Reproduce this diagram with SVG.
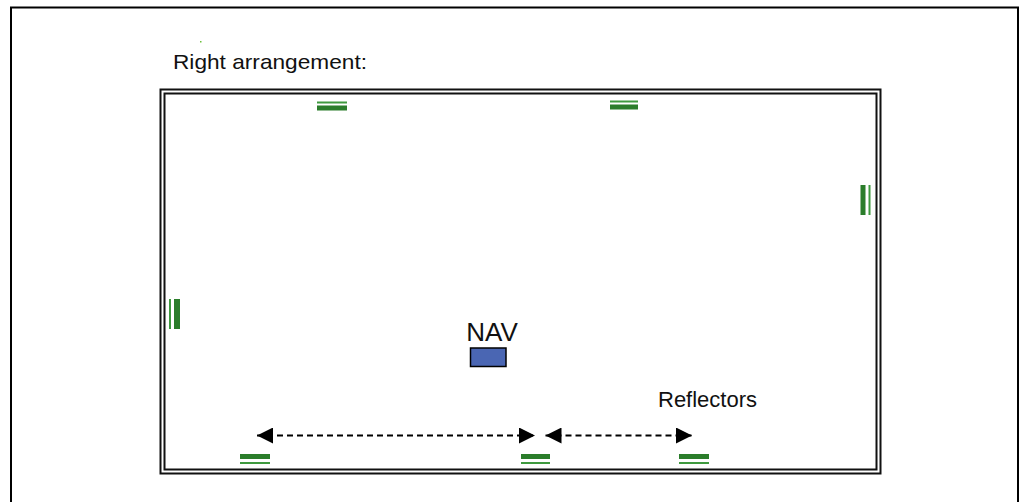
<svg xmlns="http://www.w3.org/2000/svg" width="1022" height="502" viewBox="0 0 1022 502">
  <defs>
    <marker id="head" viewBox="0 0 10 10" refX="10" refY="5" markerWidth="17" markerHeight="16" markerUnits="userSpaceOnUse" orient="auto-start-reverse">
      <path d="M0,0 L10,5 L0,10 Z" fill="#000"/>
    </marker>
  </defs>
  <style>
    .frame { fill: none; stroke: #000; stroke-width: 2; }
    .wall { fill: none; stroke: #111; stroke-width: 2; }
    .thick { fill: #2b7d2b; }
    .thin { fill: #3f9a3f; }
    .label { font-family: "Liberation Sans", Arial, sans-serif; fill: #111; }
    .dim { fill: none; stroke: #000; stroke-width: 2; stroke-dasharray: 6 4; }
  </style>

  <rect width="1022" height="502" fill="#fff"/>

  <!-- page frame, open at the bottom -->
  <path class="frame" d="M11,502 V7.5 H1018 V502"/>

  <rect x="200" y="41" width="1.5" height="1.5" fill="#6bbf3a"/>

  <g id="title">
    <text class="label" x="173" y="69" font-size="21" textLength="194" lengthAdjust="spacingAndGlyphs">Right arrangement:</text>
  </g>

  <!-- room outline: double wall -->
  <g id="room">
    <rect class="wall" x="160.5" y="89.5" width="720" height="384"/>
    <rect class="wall" x="164.5" y="93.5" width="712" height="376"/>
  </g>

  <!-- reflectors on the walls -->
  <g id="reflector-top-left">
    <rect class="thin" x="317" y="101.5" width="30" height="2"/>
    <rect class="thick" x="317" y="105.5" width="30" height="5"/>
  </g>
  <g id="reflector-top-right">
    <rect class="thin" x="610" y="100.5" width="28" height="2"/>
    <rect class="thick" x="610" y="104.5" width="28" height="5"/>
  </g>
  <g id="reflector-right">
    <rect class="thick" x="860.5" y="185" width="5" height="30"/>
    <rect class="thin" x="868.5" y="185" width="2" height="30"/>
  </g>
  <g id="reflector-left">
    <rect class="thin" x="169" y="299" width="2" height="30"/>
    <rect class="thick" x="174" y="299" width="6" height="30"/>
  </g>
  <g id="reflector-bottom-1">
    <rect class="thick" x="240" y="454" width="30" height="5"/>
    <rect class="thin" x="240" y="462" width="30" height="2"/>
  </g>
  <g id="reflector-bottom-2">
    <rect class="thick" x="521" y="454" width="29" height="5"/>
    <rect class="thin" x="521" y="462" width="29" height="2"/>
  </g>
  <g id="reflector-bottom-3">
    <rect class="thick" x="679" y="454" width="30" height="5"/>
    <rect class="thin" x="679" y="462" width="30" height="2"/>
  </g>

  <!-- navigation unit -->
  <g id="nav">
    <text class="label" x="492" y="341" font-size="26" text-anchor="middle">NAV</text>
    <rect x="470.5" y="348" width="35.5" height="18.5" fill="#4a66b3" stroke="#000" stroke-width="1.5"/>
  </g>

  <g id="reflectors-label">
    <text class="label" x="658" y="406.5" font-size="22">Reflectors</text>
  </g>

  <!-- spacing dimensions between reflectors -->
  <g id="connectors">
    <line class="dim" x1="257" y1="435.5" x2="535" y2="435.5" marker-start="url(#head)" marker-end="url(#head)"/>
    <line class="dim" x1="545.5" y1="435.5" x2="692" y2="435.5" marker-start="url(#head)" marker-end="url(#head)"/>
  </g>
</svg>
